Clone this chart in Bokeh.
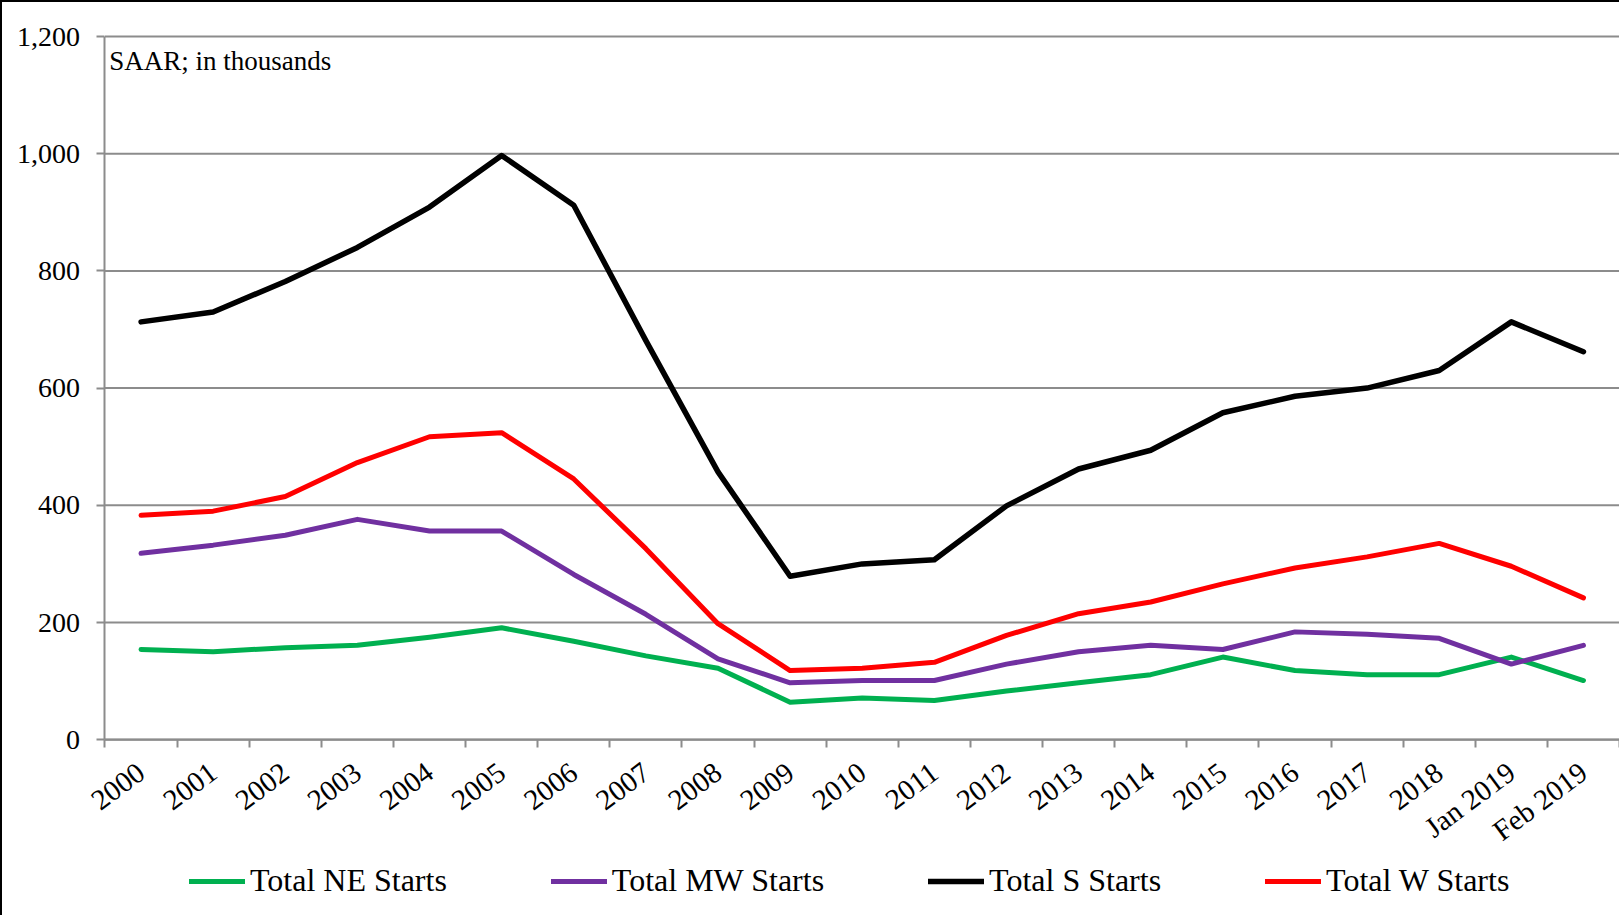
from bokeh.plotting import figure
from bokeh.models import (Range1d, FixedTicker, NumeralTickFormatter, Legend, LegendItem, Label)
from bokeh.embed import file_html
from bokeh.resources import INLINE

categories = ["2000", "2001", "2002", "2003", "2004", "2005", "2006", "2007", "2008", "2009",
              "2010", "2011", "2012", "2013", "2014", "2015", "2016", "2017", "2018",
              "Jan 2019", "Feb 2019"]
ne_starts = [154, 150, 157, 161, 175, 191, 168, 143, 122, 64, 71, 67, 83, 97, 111, 141, 118, 111, 111, 141, 101]
mw_starts = [318, 332, 349, 376, 356, 356, 282, 214, 138, 97, 101, 101, 129, 150, 161, 154, 184, 180, 173, 129, 161]
s_starts = [713, 730, 782, 840, 909, 997, 912, 681, 457, 279, 300, 307, 399, 462, 494, 558, 586, 600, 630, 713, 662]
w_starts = [383, 390, 415, 473, 517, 524, 445, 326, 198, 118, 122, 132, 178, 215, 235, 266, 293, 312, 335, 296, 242]
series_names = ["Total NE Starts", "Total MW Starts", "Total S Starts", "Total W Starts"]
series_colors = ["#00B050", "#7030A0", "#000000", "#FF0000"]
series_widths = [5, 5, 5.5, 5]
y_ticks = [0, 200, 400, 600, 800, 1000, 1200]

FONT = "Liberation Serif"
GRAY = "#8C8C8C"

n = len(categories)
xs = [i + 0.5 for i in range(n)]

# The frame covers nearly the whole canvas; axes are pinned at x=0 / y=0 so that
# tick labels and the legend are drawn inside it.
p = figure(frame_width=1617, frame_height=902, output_backend="svg", toolbar_location=None,
           x_range=Range1d(-1.421, n), y_range=Range1d(-300, 1239.25),
           min_border_left=0, min_border_right=0, min_border_top=11, min_border_bottom=0)
p.styles = {"border-left": "2px solid black", "border-top": "2px solid black"}
p.outline_line_color = None
p.background_fill_color = "white"
p.border_fill_color = "white"

# horizontal grid lines between the axis and the right edge
p.xgrid.grid_line_color = None
p.ygrid.grid_line_color = None
p.segment(x0=[0] * len(y_ticks), y0=y_ticks, x1=[n] * len(y_ticks), y1=y_ticks,
          line_color=GRAY, line_width=2)

# x axis
p.xaxis.fixed_location = 0
p.xaxis.bounds = (0, n)
p.xaxis.ticker = FixedTicker(ticks=xs, minor_ticks=list(range(n + 1)))
p.xaxis.major_label_overrides = {x: c for x, c in zip(xs, categories)}
p.xaxis.major_tick_line_color = None
p.xaxis.major_tick_out = 6
p.xaxis.major_tick_in = 0
p.xaxis.minor_tick_line_color = GRAY
p.xaxis.minor_tick_line_width = 2
p.xaxis.minor_tick_out = 8
p.xaxis.minor_tick_in = 0
p.xaxis.major_label_orientation = 0.64
p.xaxis.major_label_standoff = 21
p.xaxis.axis_line_color = GRAY
p.xaxis.axis_line_width = 2
p.xaxis.major_label_text_font = FONT
p.xaxis.major_label_text_font_size = "29px"
p.xaxis.major_label_text_color = "black"

# y axis
p.yaxis.fixed_location = 0
p.yaxis.bounds = (0, 1200)
p.yaxis.ticker = FixedTicker(ticks=y_ticks)
p.yaxis.formatter = NumeralTickFormatter(format="0,0")
p.yaxis.minor_tick_line_color = None
p.yaxis.major_tick_line_color = GRAY
p.yaxis.major_tick_line_width = 2
p.yaxis.major_tick_out = 8
p.yaxis.major_tick_in = 0
p.yaxis.major_label_standoff = 17
p.yaxis.axis_line_color = GRAY
p.yaxis.axis_line_width = 2
p.yaxis.major_label_text_font = FONT
p.yaxis.major_label_text_font_size = "28px"
p.yaxis.major_label_text_color = "black"

items = []
for name, color, lw, vals in zip(series_names, series_colors, series_widths,
                                 [ne_starts, mw_starts, s_starts, w_starts]):
    r = p.line(xs, vals, line_color=color, line_width=lw, line_cap="round", line_join="round")
    items.append(LegendItem(label=name, renderers=[r]))

legend = Legend(items=items, orientation="horizontal", location=(187, 16),
                spacing=104, glyph_width=56, glyph_height=20, label_standoff=5,
                label_text_font=FONT, label_text_font_size="32px", label_text_color="black",
                border_line_color=None, background_fill_alpha=0, padding=0, margin=0)
p.add_layout(legend, "center")

p.add_layout(Label(x=0.06, y=1158, text="SAAR; in thousands", text_font=FONT,
                   text_font_size="27px", text_color="black", text_baseline="alphabetic"))

open("out.html", "w").write(file_html(p, INLINE))
